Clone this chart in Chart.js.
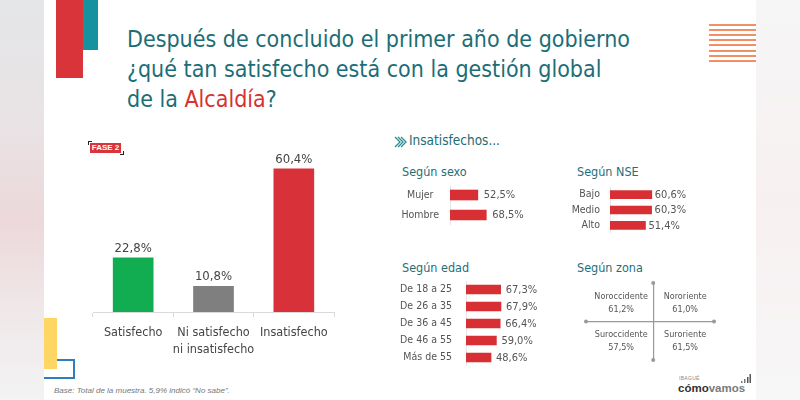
<!DOCTYPE html>
<html lang="es">
<head>
<meta charset="utf-8">
<title>Satisfacción gestión Alcaldía</title>
<script src="https://cdn.jsdelivr.net/npm/chart.js@4.4.1/dist/chart.umd.min.js"></script>
<style>
  html, body { margin: 0; padding: 0; }
  body {
    width: 800px; height: 400px; position: relative; overflow: hidden;
    background: #f7f7f8;
    font-family: "DejaVu Sans Condensed", "Liberation Sans Narrow", sans-serif;
  }
  .abs { position: absolute; }
  #leftStrip {
    left: 0; top: 0; width: 44px; height: 400px;
    background: linear-gradient(180deg, #e4e6e8 0%, #e9e3e5 30%, #ecd8da 55%, #efe6e7 75%, #f3f3f4 100%);
  }
  #rightStrip {
    left: 756px; top: 0; width: 44px; height: 400px;
    background: linear-gradient(180deg, #f6f6f7 0%, #f7f0f0 50%, #f7f7f8 100%);
  }
  #slide { left: 44px; top: 0; width: 712px; height: 400px; background: #fff; }
  #redBlock { left: 56px; top: 0; width: 27px; height: 78px; background: #d8343a; }
  #tealBlock { left: 83px; top: 0; width: 15px; height: 50px; background: #14939e; }
  .stripe { left: 709px; width: 47px; height: 2px; background: #ef9067; }
  #yellowBlock { left: 44px; top: 318px; width: 13px; height: 51px; background: #fdd663; }
  #blueBox { left: 44px; top: 359px; width: 29px; height: 16px; border: 2px solid #2f7cc0; border-left: none; }
  #title {
    left: 127px; top: 24px; margin: 0;
    font-family: "DejaVu Sans Condensed", sans-serif;
    font-weight: normal; font-size: 23px; line-height: 30px; color: #1b6e78; white-space: nowrap;
  }
  #title .red { color: #d6322f; }
  #fase {
    left: 90px; top: 143px; width: 31px; height: 10px; background: #d9343c;
    color: #fff; font: bold 8px "Liberation Sans", sans-serif; line-height: 10px; text-align: center;
  }
  .corner { width: 3px; height: 3px; border-color: #222; border-style: solid; }
  #cornerTL { left: 88px; top: 141px; border-width: 1px 0 0 1px; }
  #cornerBR { left: 120px; top: 151px; border-width: 0 1px 1px 0; }
  .head { color: #1f6f78; font-size: 12.5px; line-height: 12.5px; white-space: nowrap; }
  #insat { left: 409px; top: 133.5px; font-size: 13.5px; line-height: 13.5px; color: #1e6b73; }
  #footnote {
    left: 54px; top: 386px; font: italic 8px "Liberation Sans", sans-serif; color: #777; white-space: nowrap;
  }
  #logo { left: 678px; top: 382px; font: bold 11.5px "Liberation Sans", sans-serif; color: #333; white-space: nowrap; }
  #logo span { color: #7a7a7a; }
  #logoCity { left: 679px; top: 375px; font: 5px "Liberation Sans", sans-serif; color: #888; letter-spacing: 0.3px; }
  canvas { position: absolute; }
</style>
</head>
<body>
<div id="leftStrip" class="abs"></div>
<div id="rightStrip" class="abs"></div>
<div id="slide" class="abs"></div>
<div id="redBlock" class="abs"></div>
<div id="tealBlock" class="abs"></div>
<div id="stripes"></div>
<div id="blueBox" class="abs"></div>
<div id="yellowBlock" class="abs"></div>

<h1 id="title" class="abs">Después de concluido el primer año de gobierno<br>¿qué tan satisfecho está con la gestión global<br>de la <span class="red">Alcaldía</span>?</h1>

<div id="fase" class="abs">FASE 2</div>
<div id="cornerTL" class="abs corner"></div>
<div id="cornerBR" class="abs corner"></div>

<svg class="abs" style="left:394px;top:136px" width="13" height="12" viewBox="0 0 13 12">
  <polyline points="1,1 6,6 1,11" fill="none" stroke="#2b8c93" stroke-width="1.3"/>
  <polyline points="4,1 9,6 4,11" fill="none" stroke="#2b8c93" stroke-width="1.3"/>
  <polyline points="7,1 12,6 7,11" fill="none" stroke="#2b8c93" stroke-width="1.3"/>
</svg>
<div id="insat" class="abs head">Insatisfechos...</div>
<div class="abs head" style="left:402px;top:165.5px">Según sexo</div>
<div class="abs head" style="left:577px;top:165.5px">Según NSE</div>
<div class="abs head" style="left:402px;top:261.5px">Según edad</div>
<div class="abs head" style="left:577px;top:261.5px">Según zona</div>

<canvas id="mainChart" width="270" height="220" style="left:80px;top:140px"></canvas>
<canvas id="sexoChart" width="165" height="40" style="left:395px;top:185px"></canvas>
<canvas id="nseChart" width="180" height="46" style="left:560px;top:187px"></canvas>
<canvas id="edadChart" width="185" height="85" style="left:395px;top:281px"></canvas>
<canvas id="zonaChart" width="134" height="83" style="left:583px;top:280px"></canvas>

<div id="footnote" class="abs">Base: Total de la muestra. 5,9% indicó “No sabe”.</div>
<div id="logoCity" class="abs">IBAGUÉ</div>
<div id="logo" class="abs">cómo<span>vamos</span></div>
<svg class="abs" style="left:741px;top:374px" width="10" height="10" viewBox="0 0 10 10">
  <rect x="0" y="7" width="1.5" height="2" fill="#777"/>
  <rect x="3" y="5" width="1.5" height="4" fill="#777"/>
  <rect x="6" y="3" width="1.5" height="6" fill="#555"/>
  <rect x="8.5" y="0" width="1.5" height="9" fill="#555"/>
</svg>

<script>
// Datos
const mainCategories = ['Satisfecho', ['Ni satisfecho', 'ni insatisfecho'], 'Insatisfecho'];
const mainValues = [22.8, 10.8, 60.4];
const mainColors = ['#11ad50', '#7f7f7f', '#d8313a'];

const sexoLabels = ['Mujer', 'Hombre'];
const sexoValues = [52.5, 68.5];

const nseLabels = ['Bajo', 'Medio', 'Alto'];
const nseValues = [60.6, 60.3, 51.4];

const edadLabels = ['De 18 a 25', 'De 26 a 35', 'De 36 a 45', 'De 46 a 55', 'Más de 55'];
const edadValues = [67.3, 67.9, 66.4, 59.0, 48.6];

const zonaLabels = ['Noroccidente', 'Nororiente', 'Suroccidente', 'Suroriente'];
const zonaValues = [61.2, 61.0, 57.5, 61.5];

const NARROW = '"DejaVu Sans Condensed", "Liberation Sans Narrow", sans-serif';
const RED = '#d72f33';

// Streifen oben rechts
const stripes = document.getElementById('stripes');
for (let i = 0; i < 8; i++) {
  const s = document.createElement('div');
  s.className = 'abs stripe';
  s.style.top = (24 + i * 5.1) + 'px';
  stripes.appendChild(s);
}

const fmt = v => v.toFixed(1).replace('.', ',') + '%';

// Werte-Beschriftung an den Balken
const valueLabels = {
  id: 'valueLabels',
  afterDatasetsDraw(chart, args, opts) {
    const ctx = chart.ctx;
    const values = chart.data.datasets[0].data;
    ctx.save();
    ctx.font = opts.size + 'px ' + NARROW;
    ctx.fillStyle = opts.color;
    chart.getDatasetMeta(0).data.forEach((bar, i) => {
      const txt = fmt(values[i]);
      if (chart.options.indexAxis === 'y') {
        ctx.textAlign = 'left';
        ctx.textBaseline = 'middle';
        ctx.fillText(txt, bar.x + opts.offset, bar.y + 0.5);
      } else {
        ctx.textAlign = 'center';
        ctx.textBaseline = 'alphabetic';
        ctx.fillText(txt, bar.x, bar.y - opts.offset);
      }
    });
    ctx.restore();
  }
};

// Hauptdiagramm
new Chart(document.getElementById('mainChart'), {
  type: 'bar',
  data: {
    labels: mainCategories,
    datasets: [{ data: mainValues, backgroundColor: mainColors, barThickness: 40 }]
  },
  options: {
    responsive: false,
    animation: false,
    layout: { padding: { left: 13, right: 16, top: 6, bottom: 0 } },
    plugins: {
      legend: { display: false },
      tooltip: { enabled: false },
      valueLabels: { size: 13, color: '#444', offset: 6 }
    },
    scales: {
      y: { display: false, min: 0, max: 70 },
      x: {
        grid: { display: true, drawOnChartArea: false, tickLength: 5, color: '#d9d9d9', offset: true },
        border: { color: '#d9d9d9' },
        ticks: {
          color: '#444', padding: 7, maxRotation: 0, autoSkip: false,
          font: { family: NARROW, size: 12.5, lineHeight: 1.36 }
        },
        afterFit: s => { s.height = 48; }
      }
    }
  },
  plugins: [valueLabels]
});

// kleine horizontale Balken
function smallBars(id, labels, values, opt) {
  return new Chart(document.getElementById(id), {
    type: 'bar',
    data: {
      labels: labels,
      datasets: [{ data: values, backgroundColor: RED, barThickness: opt.thickness }]
    },
    options: {
      indexAxis: 'y',
      responsive: false,
      animation: false,
      layout: { padding: { left: 0, right: opt.right, top: 0, bottom: 0 } },
      plugins: {
        legend: { display: false },
        tooltip: { enabled: false },
        valueLabels: { size: 11, color: '#555', offset: opt.offset }
      },
      scales: {
        x: { display: false, min: 0, max: 100 },
        y: {
          grid: { display: false, drawTicks: false },
          border: { color: '#e6e6e6' },
          ticks: {
            color: '#555', padding: opt.padding, crossAlign: opt.align, autoSkip: false,
            font: { family: NARROW, size: opt.fontSize }
          },
          // feste Achsenbreite, kein Zusatzrand oben/unten
          afterFit: s => { s.width = opt.axisWidth; s.paddingTop = 0; s.paddingBottom = 0; }
        }
      }
    },
    plugins: [valueLabels]
  });
}

smallBars('sexoChart', sexoLabels, sexoValues,
  { thickness: 10, right: 57, offset: 6, padding: 11, align: 'center', fontSize: 10.5, axisWidth: 55 });
smallBars('nseChart', nseLabels, nseValues,
  { thickness: 8, right: 61, offset: 3, padding: 10, align: 'near', fontSize: 10.5, axisWidth: 50 });
smallBars('edadChart', edadLabels, edadValues,
  { thickness: 9, right: 62.5, offset: 5, padding: 14, align: 'near', fontSize: 10.5, axisWidth: 71 });

// Zonen-Kreuz
const zonaText = {
  id: 'zonaText',
  afterDatasetsDraw(chart) {
    const ctx = chart.ctx;
    const a = chart.chartArea;
    const x0 = chart.scales.x.getPixelForValue(0);
    const y0 = chart.scales.y.getPixelForValue(0);
    ctx.save();
    ctx.fillStyle = '#999';
    [[a.left, y0], [a.right, y0], [x0, a.top], [x0, a.bottom]].forEach(p => {
      ctx.beginPath();
      ctx.arc(p[0], p[1], 2, 0, Math.PI * 2);
      ctx.fill();
    });
    ctx.font = '9px ' + NARROW;
    ctx.fillStyle = '#555';
    ctx.textAlign = 'center';
    ctx.textBaseline = 'middle';
    chart.getDatasetMeta(0).data.forEach((pt, i) => {
      ctx.fillText(zonaLabels[i], pt.x, pt.y - 6);
      ctx.fillText(fmt(zonaValues[i]), pt.x, pt.y + 7);
    });
    ctx.restore();
  }
};

new Chart(document.getElementById('zonaChart'), {
  type: 'scatter',
  data: {
    datasets: [{
      data: zonaLabels.map((z, i) => ({ x: i % 2 ? 1 : -1, y: i < 2 ? 1 : -1 })),
      pointRadius: 0
    }]
  },
  options: {
    responsive: false,
    animation: false,
    layout: { padding: 3 },
    plugins: { legend: { display: false }, tooltip: { enabled: false } },
    scales: {
      x: {
        type: 'linear', position: { y: 0 }, min: -2.1, max: 1.9,
        grid: { display: false, drawTicks: false }, ticks: { display: false },
        border: { color: '#999', width: 1.2, dash: [4, 3] }
      },
      y: {
        type: 'linear', position: { x: 0 }, min: -2, max: 2,
        grid: { display: false, drawTicks: false }, ticks: { display: false },
        border: { color: '#999', width: 1.2, dash: [4, 3] }
      }
    }
  },
  plugins: [zonaText]
});
</script>
</body>
</html>
